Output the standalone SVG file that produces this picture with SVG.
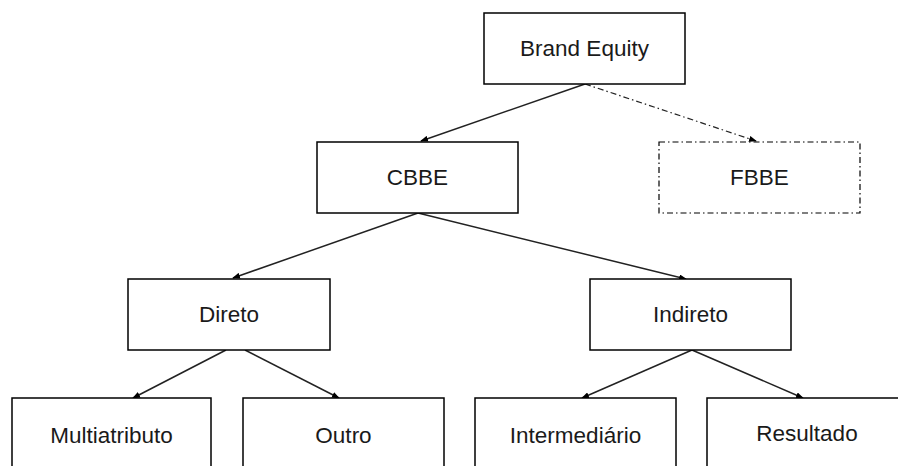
<svg xmlns="http://www.w3.org/2000/svg" width="898" height="466" viewBox="0 0 898 466">
<defs>
<marker id="ah" markerWidth="8" markerHeight="6" refX="7" refY="3" orient="auto" markerUnits="userSpaceOnUse">
<path d="M0,0 L8,3 L0,6 Z" fill="#000"/>
</marker>
<style>
.box{fill:#fff;stroke:#000;stroke-width:1.5}
.dbox{fill:#fff;stroke:#000;stroke-width:1.2;stroke-dasharray:6,3,1.5,3}
.lbl{font-family:"Liberation Sans",Arial,sans-serif;font-size:22.5px;fill:#1a1a1a;text-anchor:middle}
.ln{stroke:#222;stroke-width:1.5;fill:none;marker-end:url(#ah)}
.dln{stroke:#222;stroke-width:1.2;fill:none;stroke-dasharray:6,3,1.5,3;marker-end:url(#ah)}
</style>
</defs>
<rect width="898" height="466" fill="#fff"/>
<g id="connectors">
<line class="ln" x1="585" y1="84" x2="421" y2="141"/>
<line class="dln" x1="585" y1="84" x2="756" y2="141"/>
<line class="ln" x1="418" y1="213" x2="233" y2="278"/>
<line class="ln" x1="418" y1="213" x2="686" y2="279"/>
<line class="ln" x1="226" y1="350" x2="133" y2="398"/>
<line class="ln" x1="245" y1="350" x2="339" y2="398"/>
<line class="ln" x1="692" y1="350" x2="582" y2="398"/>
<line class="ln" x1="692" y1="350" x2="803" y2="398"/>
</g>
<g id="brand-equity"><rect class="box" x="484" y="13" width="201" height="71"/><text class="lbl" x="584.5" y="56">Brand Equity</text></g>
<g id="cbbe"><rect class="box" x="317" y="142" width="201" height="71"/><text class="lbl" x="417.5" y="185">CBBE</text></g>
<g id="fbbe"><rect class="dbox" x="659" y="142" width="201" height="71"/><text class="lbl" x="759.5" y="185">FBBE</text></g>
<g id="direto"><rect class="box" x="128" y="279" width="202" height="71"/><text class="lbl" x="229" y="322">Direto</text></g>
<g id="indireto"><rect class="box" x="590" y="279" width="201" height="71"/><text class="lbl" x="690.5" y="322">Indireto</text></g>
<g id="multiatributo"><rect class="box" x="12" y="398" width="199" height="80"/><text class="lbl" x="111.5" y="443">Multiatributo</text></g>
<g id="outro"><rect class="box" x="243" y="398" width="201" height="80"/><text class="lbl" x="343.5" y="443">Outro</text></g>
<g id="intermediario"><rect class="box" x="475" y="398" width="201" height="80"/><text class="lbl" x="575.5" y="443">Intermediário</text></g>
<g id="resultado"><rect class="box" x="707" y="398" width="201" height="80"/><text class="lbl" x="807" y="441">Resultado</text></g>
</svg>
